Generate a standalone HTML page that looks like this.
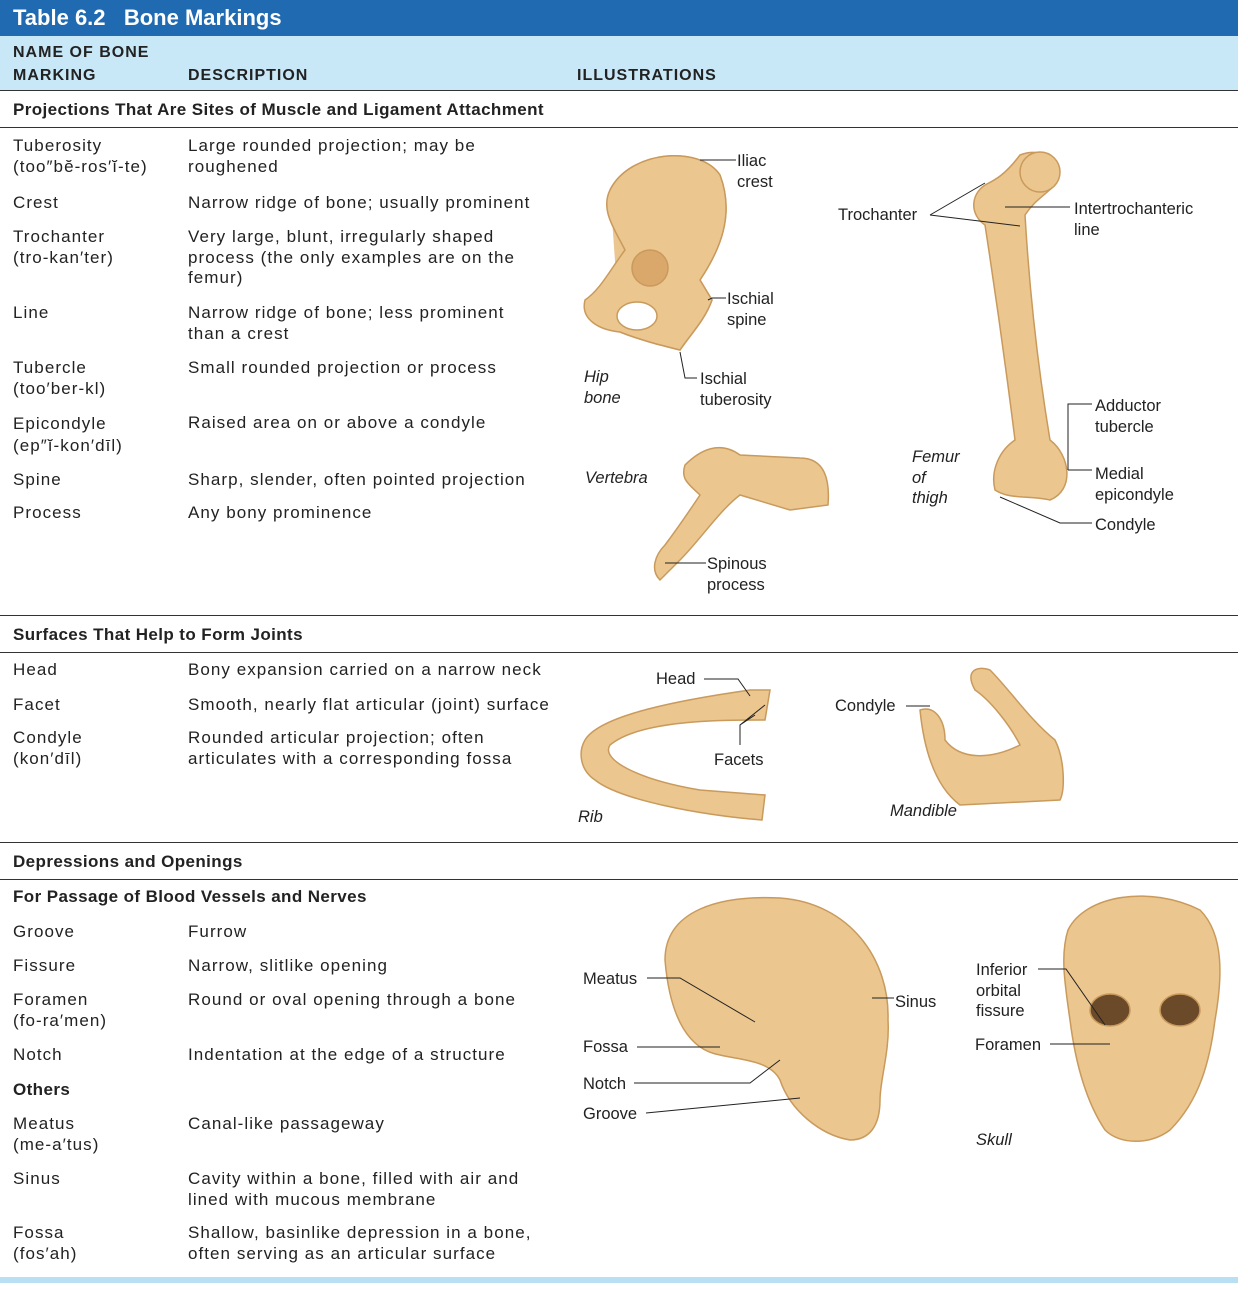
<!DOCTYPE html>
<html><head><meta charset="utf-8"><style>
body{margin:0;width:1248px;height:1290px;background:#fff;position:relative;overflow:hidden;font-family:"Liberation Sans",sans-serif;color:#222}
.t{position:absolute;font-size:17px;line-height:20.5px;white-space:nowrap;letter-spacing:1.05px}
.b{font-weight:bold;letter-spacing:0.4px}
.l{position:absolute;font-size:16.5px;line-height:20.5px;white-space:nowrap;color:#222}
.i{font-style:italic}
.hr{position:absolute;left:0;width:1238px;height:1px;background:#333}
</style></head><body>
<div style="position:absolute;left:0;top:0;width:1238px;height:36px;background:#1f6ab0"></div>
<div style="position:absolute;left:13px;top:5px;color:#fff;font-weight:bold;font-size:22px;line-height:26px">Table 6.2&nbsp;&nbsp;&nbsp;Bone Markings</div>
<div style="position:absolute;left:0;top:36px;width:1238px;height:54px;background:#c8e8f8"></div>
<div class="t b" style="left:13px;top:43px;letter-spacing:1px;font-size:16px">NAME OF BONE</div>
<div class="t b" style="left:13px;top:66px;letter-spacing:1px;font-size:16px">MARKING</div>
<div class="t b" style="left:188px;top:66px;letter-spacing:1px;font-size:16px">DESCRIPTION</div>
<div class="t b" style="left:577px;top:66px;letter-spacing:1px;font-size:16px">ILLUSTRATIONS</div>
<div class="hr" style="top:90px"></div>
<div class="t b" style="left:13px;top:100px">Projections That Are Sites of Muscle and Ligament Attachment</div>
<div class="hr" style="top:127px"></div>

<div class="t" style="left:13px;top:136px">Tuberosity<br>(too″bĕ-ros′ĭ-te)</div>
<div class="t" style="left:188px;top:136px">Large rounded projection; may be<br>roughened</div>
<div class="t" style="left:13px;top:193px">Crest</div>
<div class="t" style="left:188px;top:193px">Narrow ridge of bone; usually prominent</div>
<div class="t" style="left:13px;top:227px">Trochanter<br>(tro-kan′ter)</div>
<div class="t" style="left:188px;top:227px">Very large, blunt, irregularly shaped<br>process (the only examples are on the<br>femur)</div>
<div class="t" style="left:13px;top:303px">Line</div>
<div class="t" style="left:188px;top:303px">Narrow ridge of bone; less prominent<br>than a crest</div>
<div class="t" style="left:13px;top:358px">Tubercle<br>(too′ber-kl)</div>
<div class="t" style="left:188px;top:358px">Small rounded projection or process</div>
<div class="t" style="left:13px;top:413px;line-height:22px">Epicondyle<br>(ep″ĭ-kon′dīl)</div>
<div class="t" style="left:188px;top:413px">Raised area on or above a condyle</div>
<div class="t" style="left:13px;top:470px">Spine</div>
<div class="t" style="left:188px;top:470px">Sharp, slender, often pointed projection</div>
<div class="t" style="left:13px;top:503px">Process</div>
<div class="t" style="left:188px;top:503px">Any bony prominence</div>

<div class="hr" style="top:615px"></div>
<div class="t b" style="left:13px;top:625px">Surfaces That Help to Form Joints</div>
<div class="hr" style="top:652px"></div>
<div class="t" style="left:13px;top:660px">Head</div>
<div class="t" style="left:188px;top:660px">Bony expansion carried on a narrow neck</div>
<div class="t" style="left:13px;top:695px">Facet</div>
<div class="t" style="left:188px;top:695px">Smooth, nearly flat articular (joint) surface</div>
<div class="t" style="left:13px;top:728px">Condyle<br>(kon′dīl)</div>
<div class="t" style="left:188px;top:728px">Rounded articular projection; often<br>articulates with a corresponding fossa</div>

<div class="hr" style="top:842px"></div>
<div class="t b" style="left:13px;top:852px">Depressions and Openings</div>
<div class="hr" style="top:879px"></div>
<div class="t b" style="left:13px;top:887px">For Passage of Blood Vessels and Nerves</div>
<div class="t" style="left:13px;top:922px">Groove</div><div class="t" style="left:188px;top:922px">Furrow</div>
<div class="t" style="left:13px;top:956px">Fissure</div><div class="t" style="left:188px;top:956px">Narrow, slitlike opening</div>
<div class="t" style="left:13px;top:990px">Foramen<br>(fo-ra′men)</div><div class="t" style="left:188px;top:990px">Round or oval opening through a bone</div>
<div class="t" style="left:13px;top:1045px">Notch</div><div class="t" style="left:188px;top:1045px">Indentation at the edge of a structure</div>
<div class="t b" style="left:13px;top:1080px">Others</div>
<div class="t" style="left:13px;top:1114px">Meatus<br>(me-a′tus)</div><div class="t" style="left:188px;top:1114px">Canal-like passageway</div>
<div class="t" style="left:13px;top:1169px">Sinus</div><div class="t" style="left:188px;top:1169px">Cavity within a bone, filled with air and<br>lined with mucous membrane</div>
<div class="t" style="left:13px;top:1223px">Fossa<br>(fos′ah)</div><div class="t" style="left:188px;top:1223px">Shallow, basinlike depression in a bone,<br>often serving as an articular surface</div>
<div style="position:absolute;left:0;top:1277px;width:1238px;height:6px;background:#b8dff3"></div>

<svg width="1248" height="1290" style="position:absolute;left:0;top:0" fill="#ebc68f" stroke="#c99a5c" stroke-width="1.5">
<!-- hip -->
<path d="M610 190 C630 150 700 145 720 175 C735 215 720 250 700 280 L712 300 C705 320 690 335 680 350 C660 345 640 340 620 332 C600 330 580320 585 300 C600 290 610 270 625 250 C615 230 600 210 610 190Z"/>
<path d="M610 190 C630 150 700 145 720 175 C735 215 720 250 700 280 L712 300 C705 320 690 335 680 350 C660 345 640 340 620 332 C600 330 580 320 585 300 C600 290 610 270 625 250 C615 230 600 210 610 190Z"/>
<ellipse cx="637" cy="316" rx="20" ry="14" fill="#fff"/>
<circle cx="650" cy="268" r="18" fill="#d9a86a"/>
<!-- vertebra -->
<path d="M685 465 C700 450 720 440 740 455 L800 458 C825 458 830 480 828 505 L790 510 L740 495 C720 510 700 540 680 560 L660 580 C650 570 655 555 665 545 C680 525 690 510 700 495 C690 485 680 480 685 465Z"/>
<!-- femur -->
<path d="M1020 155 C1045 145 1065 165 1055 185 C1045 195 1035 200 1025 215 C1030 300 1040 380 1050 440 C1070 455 1075 490 1050 500 C1030 495 1010 500 995 490 C990 470 1000 450 1015 440 C1005 360 995 290 985 225 C970 215 970 195 985 185 C995 180 1005 175 1020 155Z"/>
<circle cx="1040" cy="172" r="20"/>
<!-- rib -->
<path d="M585 740 C600 715 680 700 750 690 L770 690 L765 720 C720 720 640 720 610 745 C600 760 640 780 700 790 L765 795 L762 820 C700 815 620 800 595 780 C580 770 578 752 585 740Z"/>
<!-- mandible -->
<path d="M920 710 C935 705 945 720 945 740 C960 760 990 760 1020 745 C1010 725 990 700 975 690 C965 672 975 665 990 670 C1010 690 1030 720 1055 740 C1065 760 1065 790 1060 800 L960 805 C940 790 925 760 920 710Z"/>
<!-- skull lateral -->
<path d="M665 960 C665 910 720 895 780 898 C850 903 890 960 888 1020 C890 1050 880 1080 880 1100 C880 1125 870 1140 850 1140 C820 1135 790 1110 780 1080 C770 1060 740 1060 720 1055 C690 1050 670 1020 665 960Z"/>
<!-- skull frontal -->
<path d="M1068 930 C1085 895 1150 885 1200 910 C1225 935 1222 980 1215 1020 C1210 1060 1200 1100 1170 1130 C1150 1145 1120 1145 1105 1130 C1085 1100 1075 1060 1070 1020 C1065 985 1060 955 1068 930Z"/>
<ellipse cx="1110" cy="1010" rx="20" ry="16" fill="#6b4a2a"/>
<ellipse cx="1180" cy="1010" rx="20" ry="16" fill="#6b4a2a"/>
<g fill="none" stroke="#222" stroke-width="1">
<path d="M736 160 H700"/><path d="M726 298 H712 L708 300"/><path d="M697 378 H685 L680 352"/>
<path d="M930 215 L985 183 M930 215 L1020 226"/><path d="M1070 207 H1005"/>
<path d="M1092 404 H1068 V470 M1068 470 H1092"/><path d="M1092 523 H1060 L1000 497"/>
<path d="M706 563 H665"/>
<path d="M704 679 H738 L750 696"/><path d="M740 745 V725 L765 705 M740 725 L755 715"/>
<path d="M906 706 H930"/>
<path d="M647 978 H680 L755 1022"/><path d="M637 1047 H720"/><path d="M634 1083 H750 L780 1060"/><path d="M646 1113 L800 1098"/>
<path d="M894 998 H872"/><path d="M1038 969 H1066 L1105 1025"/><path d="M1050 1044 H1110"/>
</g>
</svg>
<div class="l" style="left:737px;top:151px">Iliac<br>crest</div>
<div class="l" style="left:727px;top:289px">Ischial<br>spine</div>
<div class="l i" style="left:584px;top:367px">Hip<br>bone</div>
<div class="l" style="left:700px;top:369px">Ischial<br>tuberosity</div>
<div class="l i" style="left:585px;top:468px">Vertebra</div>
<div class="l" style="left:707px;top:554px">Spinous<br>process</div>
<div class="l" style="left:838px;top:205px">Trochanter</div>
<div class="l" style="left:1074px;top:199px">Intertrochanteric<br>line</div>
<div class="l" style="left:1095px;top:396px">Adductor<br>tubercle</div>
<div class="l i" style="left:912px;top:447px">Femur<br>of<br>thigh</div>
<div class="l" style="left:1095px;top:464px">Medial<br>epicondyle</div>
<div class="l" style="left:1095px;top:515px">Condyle</div>
<div class="l" style="left:656px;top:669px">Head</div>
<div class="l" style="left:714px;top:750px">Facets</div>
<div class="l i" style="left:578px;top:807px">Rib</div>
<div class="l" style="left:835px;top:696px">Condyle</div>
<div class="l i" style="left:890px;top:801px">Mandible</div>
<div class="l" style="left:583px;top:969px">Meatus</div>
<div class="l" style="left:583px;top:1037px">Fossa</div>
<div class="l" style="left:583px;top:1074px">Notch</div>
<div class="l" style="left:583px;top:1104px">Groove</div>
<div class="l" style="left:895px;top:992px">Sinus</div>
<div class="l" style="left:976px;top:960px">Inferior<br>orbital<br>fissure</div>
<div class="l" style="left:975px;top:1035px">Foramen</div>
<div class="l i" style="left:976px;top:1130px">Skull</div>
</body></html>
